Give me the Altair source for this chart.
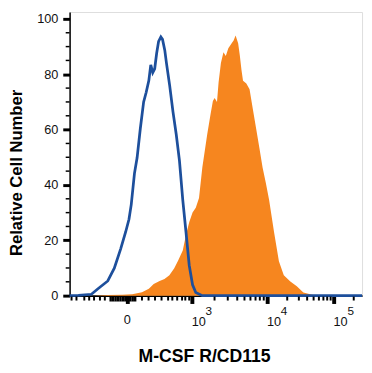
import altair as alt
import pandas as pd

# Display channel (0-1024, biexponential display) vs relative cell number
blue_x = [0, 30.8, 76.3, 99.3, 133.6, 156.5, 179.1, 196.2, 207.9, 215.8, 227.1, 236.3,
          247.6, 259.2, 268.2, 277.4, 284.2, 291.1, 297.9, 304.8, 311.6, 319.5, 325.3,
          333.2, 339.0, 350.3, 362.0, 373.3, 384.6, 396.2, 407.5, 418.8, 430.5, 441.8,
          464.7, 1024]
blue_y = [0, 0.1, 0.5, 2.5, 5.3, 9.9, 17.0, 23.0, 27.6, 32.9, 44.2, 49.8,
          60.4, 70.0, 73.5, 77.7, 83.4, 80.6, 82.0, 87.6, 91.9, 93.5, 92.6,
          88.7, 84.1, 76.0, 66.4, 58.3, 48.8, 34.6, 23.0, 11.0, 3.9, 1.1,
          0, 0]

orange_x = [85.6, 133.6, 184.9, 219.2, 253.4, 277.4, 294.5, 315.1, 332.2, 349.3, 366.4,
            380.1, 396.2, 407.5, 418.8, 430.5, 441.8, 453.1, 464.7, 481.9, 493.2, 501.7,
            507.9, 516.1, 521.6, 529.8, 538.7, 546.9, 555.8, 567.5, 574.3, 581.2, 590.1,
            595.9, 601.7, 607.2, 618.8, 630.1, 641.4, 653.1, 664.4, 675.7, 687.3, 698.6,
            715.8, 732.9, 750.0, 772.9, 795.5, 818.5, 852.7, 904.1]
orange_y = [0, 0.2, 0.35, 0.5, 1.2, 2.5, 4.2, 5.3, 6.0, 7.4, 9.9,
            12.7, 16.3, 21.9, 26.5, 30.0, 31.8, 35.3, 46.3, 58.3, 65.4, 70.3,
            71.4, 70.0, 77.0, 84.1, 88.0, 86.6, 89.4, 91.2, 92.2, 94.0, 91.2,
            86.9, 81.6, 77.7, 76.7, 74.6, 67.5, 60.4, 53.4, 46.3, 40.6, 34.6,
            23.0, 12.4, 7.4, 5.1, 3.4, 1.1, 0.2, 0]

y_major = [0, 20, 40, 60, 80, 100]
y_minor = [5, 10, 15, 25, 30, 35, 45, 50, 55, 65, 70, 75, 85, 90, 95]

x_major = [202.1, 428.1, 691.8, 924.7]
x_zero = [202.1]
x_pow = [428.1, 691.8, 924.7]
pow_exp = ["3", "4", "5"]
x_minor = [6.8, 24.0, 51.4, 68.5, 85.6, 106.2, 123.3,
           253.4, 276.4, 299.0, 321.9, 344.9, 359.6, 376.7, 393.8, 405.1, 418.8,
           507.5, 553.8, 587.0, 612.3, 633.2, 651.0, 666.1, 679.8,
           762.0, 802.7, 831.8, 854.4, 872.9, 888.7, 902.0, 914.0, 994.9]
x_cluster = [143.8, 152.4, 161.0, 169.5, 178.1, 186.7, 195.2, 203.8, 212.4, 220.9, 229.5]

BLUE = "#1d4f9c"
ORANGE = "#f6861f"
FONT = "Liberation Sans"

xs = alt.Scale(domain=[0, 1024], nice=False, zero=False)
ys = alt.Scale(domain=[0, 102.5], nice=False, zero=False)

x_axis = alt.Axis(values=x_major, labels=False, tickSize=8, tickWidth=4, tickColor="black",
                  domainColor="black", domainWidth=2, grid=False,
                  title="M-CSF R/CD115", titleFont=FONT, titleFontSize=18,
                  titleFontWeight="bold", titleColor="black",
                  titleX=137.5, titleY=62, titleBaseline="middle", titleAlign="center")
y_axis = alt.Axis(values=y_major, tickSize=7, tickWidth=3, tickColor="black",
                  domainColor="black", domainWidth=1.5, grid=False,
                  labelFont=FONT, labelFontSize=13, labelColor="#111", labelPadding=5,
                  title="Relative Cell Number", titleFont=FONT, titleFontSize=17,
                  titleFontWeight="bold", titleColor="black",
                  titleX=-54, titleY=164, titleBaseline="middle", titleAlign="center",
                  titleAngle=270)

X = alt.X("x:Q", scale=xs, axis=x_axis)
Y = alt.Y("y:Q", scale=ys, axis=y_axis)

orange_df = pd.DataFrame({"x": orange_x, "y": orange_y})
blue_df = pd.DataFrame({"x": blue_x, "y": blue_y})

area = alt.Chart(orange_df).mark_area(color=ORANGE, opacity=1, interpolate="linear").encode(x=X, y=Y)
line = alt.Chart(blue_df).mark_line(color=BLUE, strokeWidth=2.8).encode(x=X, y=Y)

minor_x = alt.Chart(pd.DataFrame({"x": x_minor})).mark_rule(color="black", strokeWidth=2).encode(
    x=X, y=alt.value(291), y2=alt.value(295))
cluster_x = alt.Chart(pd.DataFrame({"x": x_cluster})).mark_rule(color="black", strokeWidth=2.5).encode(
    x=X, y=alt.value(291), y2=alt.value(296))
minor_y = alt.Chart(pd.DataFrame({"y": y_minor})).mark_rule(color="black", strokeWidth=1.5).encode(
    y=Y, x=alt.value(-4), x2=alt.value(0))

zero_lbl = alt.Chart(pd.DataFrame({"x": x_zero, "t": ["0"]})).mark_text(
    font=FONT, fontSize=13, color="#111", baseline="middle", align="center").encode(
    x=X, y=alt.value(315), text="t:N")
base_lbl = alt.Chart(pd.DataFrame({"x": x_pow, "t": ["10"] * len(x_pow)})).mark_text(
    font=FONT, fontSize=13, color="#111", baseline="middle", align="center", dx=7).encode(
    x=X, y=alt.value(317), text="t:N")
exp_lbl = alt.Chart(pd.DataFrame({"x": x_pow, "t": pow_exp})).mark_text(
    font=FONT, fontSize=12, color="#111", baseline="middle", align="left", dx=14).encode(
    x=X, y=alt.value(306), text="t:N")

chart = alt.layer(area, line, minor_x, cluster_x, minor_y, zero_lbl, base_lbl, exp_lbl).properties(
    width=299, height=290,
    autosize=alt.AutoSizeParams(type="none"),
    padding={"left": 63, "top": 0, "right": 2, "bottom": 75},
).configure_view(stroke="#666", strokeWidth=1).configure(background="white")

chart.save("out.html", embed_options={"renderer": "svg", "actions": False})
